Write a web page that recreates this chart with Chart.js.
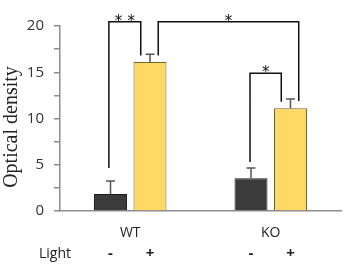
<!DOCTYPE html>
<html>
<head>
<meta charset="utf-8">
<script src="https://cdn.jsdelivr.net/npm/chart.js@4.4.1/dist/chart.umd.min.js"></script>
<style>
  html, body { margin: 0; padding: 0; background: #fff; }
  #wrap { width: 361px; height: 264px; }
</style>
</head>
<body>
<div id="wrap"><canvas id="myChart" width="361" height="264"></canvas></div>
<script>
// data
var categories = ['WT', 'KO'];
var darkValues = [1.85, 3.55];    // Light -
var lightValues = [16.1, 11.1];   // Light +
var darkErrors = [1.4, 1.1];
var lightErrors = [0.85, 1.0];
var lightSigns = ['-', '+'];

// significance brackets: [category, dataset]
var bracketFrom = [[0, 0], [0, 1], [1, 0]];
var bracketTo = [[0, 1], [1, 1], [1, 1]];
var bracketTop = [20.45, 20.45, 14.9];
var bracketFromBase = [4.65, 16.8, 5.3];
var bracketToBase = [16.8, 11.9, 11.8];
var bracketLabel = ['**', '*', '*'];

var errorBars = {
  id: 'errorBars',
  afterDatasetsDraw: function(chart) {
    var ctx = chart.ctx, y = chart.scales.y;
    var errs = [darkErrors, lightErrors];
    ctx.save();
    ctx.strokeStyle = '#555';
    ctx.lineWidth = 1.5;
    chart.data.datasets.forEach(function(ds, di) {
      chart.getDatasetMeta(di).data.forEach(function(bar, i) {
        var top = y.getPixelForValue(ds.data[i] + errs[di][i]);
        ctx.beginPath();
        ctx.moveTo(bar.x, bar.y);
        ctx.lineTo(bar.x, top);
        ctx.moveTo(bar.x - 4.5, top);
        ctx.lineTo(bar.x + 4.5, top);
        ctx.stroke();
      });
    });
    ctx.restore();
  }
};

var brackets = {
  id: 'brackets',
  afterDraw: function(chart) {
    var ctx = chart.ctx, y = chart.scales.y;
    // where each leg sits on its bar, as a share of the bar width
    var fromShift = [-0.05, 0.25, -0.03];
    var toShift = [-0.28, 0.25, -0.28];
    ctx.save();
    ctx.strokeStyle = '#111';
    ctx.lineWidth = 1.5;
    ctx.fillStyle = '#111';
    ctx.font = '15px "DejaVu Sans"';
    ctx.textAlign = 'center';
    ctx.textBaseline = 'alphabetic';
    bracketLabel.forEach(function(lab, k) {
      var a = chart.getDatasetMeta(bracketFrom[k][1]).data[bracketFrom[k][0]];
      var b = chart.getDatasetMeta(bracketTo[k][1]).data[bracketTo[k][0]];
      var x1 = a.x + fromShift[k] * a.width;
      var x2 = b.x + toShift[k] * b.width;
      var yt = y.getPixelForValue(bracketTop[k]);
      ctx.beginPath();
      ctx.moveTo(x1, y.getPixelForValue(bracketFromBase[k]));
      ctx.lineTo(x1, yt);
      ctx.lineTo(x2, yt);
      ctx.lineTo(x2, y.getPixelForValue(bracketToBase[k]));
      ctx.stroke();
      var mid = (x1 + x2) / 2;
      var n = lab.length;
      for (var c = 0; c < n; c++) {
        ctx.fillText(lab[c], mid + (c - (n - 1) / 2) * 12.7, yt + 4);
      }
    });
    ctx.restore();
  }
};

var extraText = {
  id: 'extraText',
  afterDraw: function(chart) {
    var ctx = chart.ctx;
    ctx.save();
    // y axis title
    ctx.fillStyle = '#222';
    ctx.font = '20px "Liberation Serif"';
    ctx.textAlign = 'center';
    ctx.textBaseline = 'middle';
    ctx.translate(12, 127);
    ctx.rotate(-Math.PI / 2);
    ctx.fillText('Optical density', 0, 0);
    ctx.restore();

    ctx.save();
    ctx.fillStyle = '#222';
    ctx.textBaseline = 'middle';
    ctx.textAlign = 'center';
    ctx.font = '14px "Open Sans"';
    ctx.fillText('Light', 55, 254);
    ctx.font = 'bold 15px "Open Sans"';
    chart.data.datasets.forEach(function(ds, di) {
      chart.getDatasetMeta(di).data.forEach(function(bar) {
        ctx.fillText(lightSigns[di], bar.x, 254);
      });
    });
    ctx.restore();
  }
};

var ctx = document.getElementById('myChart').getContext('2d');
var chart = new Chart(ctx, {
  type: 'bar',
  data: {
    labels: categories,
    datasets: [{
      data: darkValues,
      backgroundColor: '#3b3b3b',
      borderColor: '#1c1c1c',
      borderWidth: 1
    }, {
      data: lightValues,
      backgroundColor: '#ffd966',
      borderColor: '#6e6235',
      borderWidth: 1
    }]
  },
  plugins: [errorBars, brackets, extraText],
  options: {
    responsive: false,
    animation: false,
    events: [],
    layout: { padding: { top: 26, right: 20, left: 0, bottom: 0 } },
    categoryPercentage: 0.562,
    barPercentage: 0.835,
    plugins: { legend: { display: false }, tooltip: { enabled: false } },
    scales: {
      x: {
        grid: { display: false },
        border: { color: '#8c8c8c', width: 1.5 },
        ticks: { color: '#222', font: { family: 'Open Sans', size: 14 }, padding: 6 },
        afterFit: function(s) { s.height = 53; }
      },
      y: {
        min: 0,
        max: 20,
        border: { color: '#8c8c8c', width: 1.5 },
        grid: { drawOnChartArea: false, tickLength: 6, color: '#8c8c8c', lineWidth: 1.5 },
        ticks: {
          stepSize: 2.5,
          padding: 10,
          color: '#333',
          font: { family: 'Open Sans', size: 15 },
          callback: function(v) { return v % 5 === 0 ? v : ''; }
        },
        afterFit: function(s) { s.width = 60; }
      }
    }
  }
});
</script>
</body>
</html>
